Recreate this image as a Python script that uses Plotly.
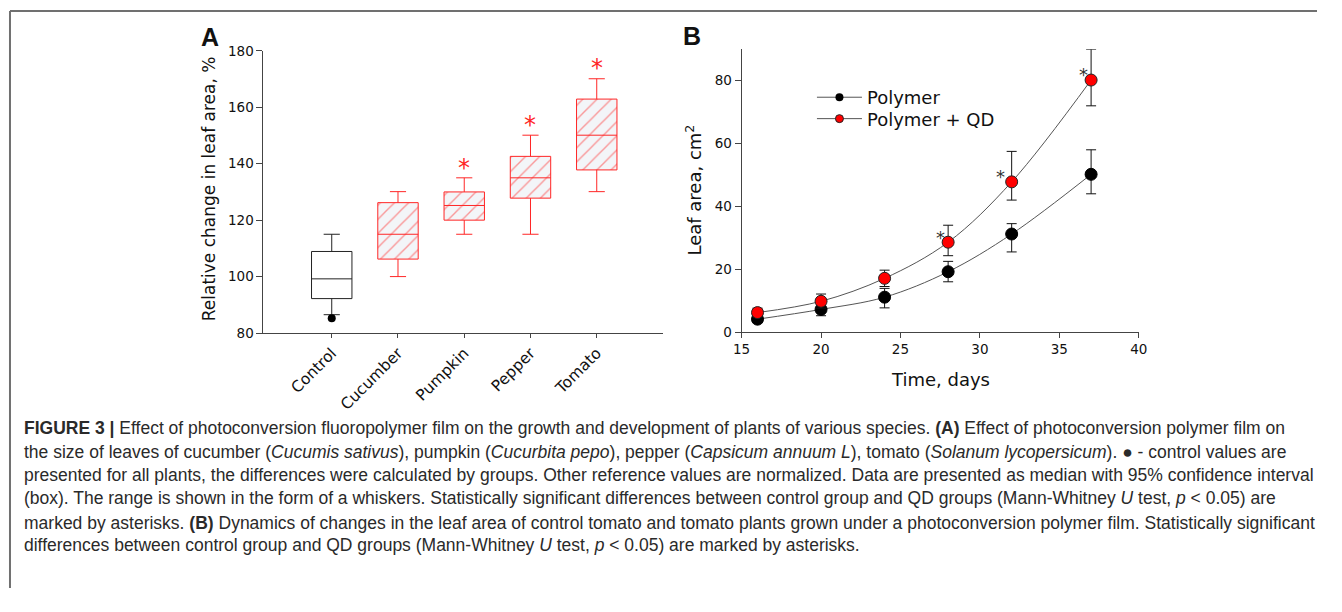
import plotly.graph_objects as go

# page body keeps its default 8px margin, so the figure is 16px smaller than the window
OFF = 8
W, H = 1342 - 2 * OFF, 612 - 2 * OFF

# ---------------- Panel A data ----------------
categories = ["Control", "Cucumber", "Pumpkin", "Pepper", "Tomato"]
q1 = [92.2, 106.2, 120.0, 127.8, 137.8]
median = [99.2, 115.0, 125.2, 135.0, 150.1]
q3 = [108.9, 126.2, 130.0, 142.6, 162.9]
lower_whisker = [86.5, 100.0, 115.0, 115.0, 130.1]
upper_whisker = [115.0, 130.1, 135.0, 150.1, 170.1]
control_outlier = [85.2]
star_a_cats = [2, 3, 4]
star_a_y = [140.6, 156.0, 175.9]

# ---------------- Panel B data ----------------
days = [16, 20, 24, 28, 32, 37]
polymer = [4.1, 7.2, 11.1, 19.2, 31.2, 50.2]
polymer_hi = [5.4, 9.0, 13.9, 22.5, 34.5, 58.0]
polymer_lo = [3.0, 5.2, 7.7, 16.0, 25.5, 44.0]
qd = [6.2, 9.8, 17.1, 28.6, 47.8, 80.2]
qd_hi = [7.6, 12.1, 19.7, 34.0, 57.5, 90.0]
qd_lo = [4.8, 7.6, 14.5, 24.3, 42.0, 72.0]
star_b_x = [27.5, 31.3, 36.5]
star_b_y = [31.3, 50.7, 83.1]

caption_lines = [
    "<b>FIGURE 3 |</b> Effect of photoconversion fluoropolymer film on the growth and development of plants of various species. <b>(A)</b> Effect of photoconversion polymer film on",
    "the size of leaves of cucumber (<i>Cucumis sativus</i>), pumpkin (<i>Cucurbita pepo</i>), pepper (<i>Capsicum annuum L</i>), tomato (<i>Solanum lycopersicum</i>). ● - control values are",
    "presented for all plants, the differences were calculated by groups. Other reference values are normalized. Data are presented as median with 95% confidence interval",
    "(box). The range is shown in the form of a whiskers. Statistically significant differences between control group and QD groups (Mann-Whitney <i>U</i> test, <i>p</i> &lt; 0.05) are",
    "marked by asterisks. <b>(B)</b> Dynamics of changes in the leaf area of control tomato and tomato plants grown under a photoconversion polymer film. Statistically significant",
    "differences between control group and QD groups (Mann-Whitney <i>U</i> test, <i>p</i> &lt; 0.05) are marked by asterisks.",
]
caption_y = [440, 464, 488, 512, 537, 560]

RED = "#ff2626"
FONT = "DejaVu Sans"

def px(x):
    return (x - OFF) / W

def py(y):
    return 1 - (y - OFF) / H

fig = go.Figure()

xpos = list(range(len(categories)))

# hatched fill for treatment boxes
fig.add_trace(go.Bar(
    x=xpos[1:], y=[b - a for a, b in zip(q1[1:], q3[1:])], base=q1[1:],
    width=0.61, xaxis="x", yaxis="y",
    marker=dict(color="#f3f5f8", line=dict(width=0),
                pattern=dict(shape="/", fgcolor="rgba(255,45,45,0.95)", bgcolor="#f3f5f8",
                             size=10, solidity=0.14)),
    showlegend=False, hoverinfo="skip"))

# control box
fig.add_trace(go.Box(
    x=[xpos[0]], q1=[q1[0]], median=[median[0]], q3=[q3[0]],
    lowerfence=[lower_whisker[0]], upperfence=[upper_whisker[0]],
    width=0.61, whiskerwidth=0.4, line=dict(color="#222", width=1),
    fillcolor="rgba(255,255,255,0)", xaxis="x", yaxis="y", showlegend=False,
    boxpoints=False))
# treatment boxes
fig.add_trace(go.Box(
    x=xpos[1:], q1=q1[1:], median=median[1:], q3=q3[1:],
    lowerfence=lower_whisker[1:], upperfence=upper_whisker[1:],
    width=0.61, whiskerwidth=0.4, line=dict(color=RED, width=1),
    fillcolor="rgba(255,255,255,0)", xaxis="x", yaxis="y", showlegend=False,
    boxpoints=False))
# control outlier dot
fig.add_trace(go.Scatter(
    x=[xpos[0]], y=control_outlier, mode="markers",
    marker=dict(color="black", size=8), xaxis="x", yaxis="y", showlegend=False))

# Panel B series
def err(vals, hi, lo):
    return dict(type="data", symmetric=False,
                array=[h - v for v, h in zip(vals, hi)],
                arrayminus=[v - l for v, l in zip(vals, lo)],
                color="#111", thickness=1, width=5)

fig.add_trace(go.Scatter(
    x=days, y=polymer, mode="lines+markers", line=dict(color="#555", width=1, shape="spline"),
    marker=dict(color="black", size=12, line=dict(color="black", width=1)),
    error_y=err(polymer, polymer_hi, polymer_lo), xaxis="x2", yaxis="y2", showlegend=False))
fig.add_trace(go.Scatter(
    x=days, y=qd, mode="lines+markers", line=dict(color="#555", width=1, shape="spline"),
    marker=dict(color="#ff0000", size=12, line=dict(color="#222", width=1)),
    error_y=err(qd, qd_hi, qd_lo), xaxis="x2", yaxis="y2", showlegend=False))

# legend entries
fig.add_trace(go.Scatter(
    x=[None], y=[None], mode="lines+markers", name="Polymer", legend="legend",
    line=dict(color="#555", width=1), marker=dict(color="black", size=8),
    xaxis="x2", yaxis="y2"))
fig.add_trace(go.Scatter(
    x=[None], y=[None], mode="lines+markers", name="Polymer + QD", legend="legend2",
    line=dict(color="#555", width=1), marker=dict(color="#ff0000", size=8, line=dict(color="#222", width=1)),
    xaxis="x2", yaxis="y2"))

ann = []
for c, yv in zip(star_a_cats, star_a_y):
    ann.append(dict(x=c, y=yv, xref="x", yref="y", text="*", showarrow=False,
                    xanchor="center", yanchor="middle",
                    font=dict(family=FONT, size=24, color=RED), yshift=-6))
for xv, yv in zip(star_b_x, star_b_y):
    ann.append(dict(x=xv, y=yv, xref="x2", yref="y2", text="*", showarrow=False,
                    xanchor="center", yanchor="middle",
                    font=dict(family=FONT, size=18, color="#333"), yshift=-4))

# panel letters
ann.append(dict(x=px(212), y=py(38), xref="paper", yref="paper", text="<b>A</b>", showarrow=False,
                xanchor="center", yanchor="middle",
                font=dict(family="Liberation Sans", size=25, color="#111")))
ann.append(dict(x=px(700), y=py(37), xref="paper", yref="paper", text="<b>B</b>", showarrow=False,
                xanchor="center", yanchor="middle",
                font=dict(family="Liberation Sans", size=25, color="#111")))

# axis titles
ann.append(dict(x=px(211), y=py(194), xref="paper", yref="paper", text="Relative change in leaf area, %",
                textangle=-90, showarrow=False, xanchor="center", yanchor="middle",
                font=dict(family=FONT, size=17, color="#111")))
ann.append(dict(x=px(702), y=py(195), xref="paper", yref="paper", text="Leaf area, cm<sup>2</sup>",
                textangle=-90, showarrow=False, xanchor="center", yanchor="middle",
                font=dict(family=FONT, size=18, color="#111")))
ann.append(dict(x=px(952), y=py(390), xref="paper", yref="paper", text="Time, days",
                showarrow=False, xanchor="center", yanchor="middle",
                font=dict(family=FONT, size=18, color="#111")))

# caption
for t, yc in zip(caption_lines, caption_y):
    ann.append(dict(x=px(21), y=py(yc), xref="paper", yref="paper", text=t, xanchor="left",
                    yanchor="middle", showarrow=False, align="left",
                    font=dict(family="Liberation Sans", size=17.5, color="#2a2a2a")))

axis_common = dict(showgrid=False, zeroline=False, showline=True, linecolor="#444", linewidth=1,
                   ticks="outside", tickcolor="#444", tickwidth=1,
                   tickfont=dict(family=FONT, size=13.5, color="#111"))

legend_common = dict(xanchor="left", yanchor="middle", bgcolor="rgba(0,0,0,0)",
                     font=dict(family=FONT, size=18, color="#111"), itemwidth=45,
                     borderwidth=0)

fig.update_layout(
    width=W, height=H, autosize=False,
    margin=dict(l=0, r=0, t=0, b=0),
    paper_bgcolor="white", plot_bgcolor="white",
    barmode="overlay", boxmode="overlay",
    xaxis=dict(domain=[px(266), px(671)], range=[-1.03, 5], tickvals=xpos, ticktext=categories,
               tickangle=-45, ticklen=4, anchor="y", **{k: v for k, v in axis_common.items() if k != "tickfont"},
               tickfont=dict(family=FONT, size=15.5, color="#111")),
    yaxis=dict(domain=[py(342), py(52)], range=[80, 180], tickvals=[80, 100, 120, 140, 160, 180],
               ticklen=6, anchor="x", **axis_common),
    xaxis2=dict(domain=[px(750.7), px(1153.3)], range=[15, 40], tickvals=[15, 20, 25, 30, 35, 40],
                ticklen=5, anchor="y2", **axis_common),
    yaxis2=dict(domain=[py(341), py(50.4)], range=[0, 90], tickvals=[0, 20, 40, 60, 80],
                ticklen=6, anchor="x2", **axis_common),
    legend=dict(x=px(822), y=py(100), **legend_common),
    legend2=dict(x=px(822), y=py(122), **legend_common),
    annotations=ann,
    shapes=[
        dict(type="line", xref="paper", yref="paper", x0=px(9), x1=1, y0=py(11), y1=py(11),
             line=dict(color="#707070", width=2)),
        dict(type="line", xref="paper", yref="paper", x0=px(9), x1=px(9), y0=0, y1=py(11),
             line=dict(color="#707070", width=2)),
    ],
)

fig.write_html("out.html")
